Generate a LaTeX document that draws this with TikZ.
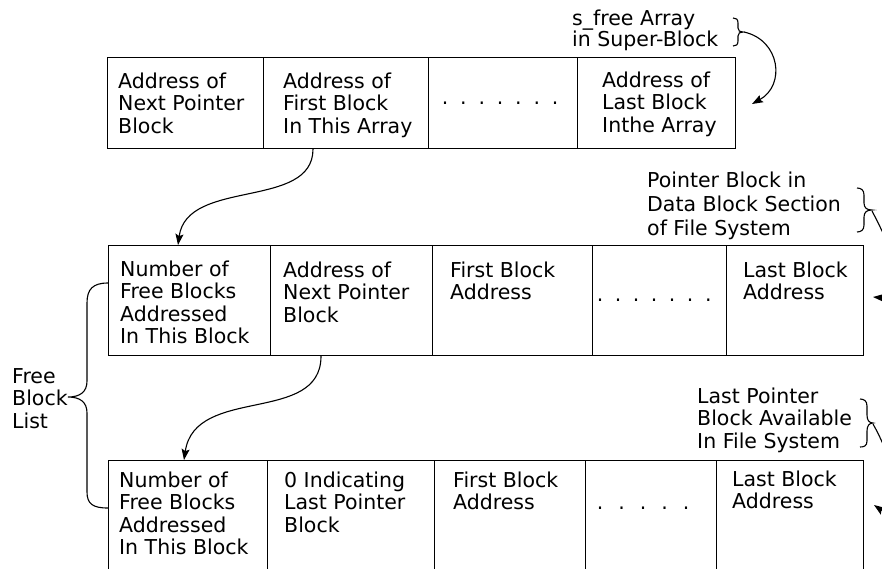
\documentclass[tikz,border=0pt]{standalone}
\usepackage{fontspec}
\setmainfont{DejaVu Sans}
\usetikzlibrary{arrows.meta}
\newcommand\mlines[1]{\begin{tabular}[t]{@{}l@{}}#1\end{tabular}}
\begin{document}
\begin{tikzpicture}[x=1pt,y=-1pt,
  cell/.style={draw, line width=1.1pt, rectangle, inner sep=0pt, anchor=north west},
  txt/.style={anchor=base west, inner sep=0pt, font=\fontsize{20.5}{22.5}\selectfont},
  conn/.style={line width=1.1pt, -{Stealth[length=11pt,width=8pt,inset=2pt]}},
  brc/.style={line width=1.1pt},
]
\useasboundingbox (0,0) rectangle (882,568);
\clip (0,0) rectangle (882,568);

% ---------- top row (s_free array) ----------
\node[cell, minimum width=156pt, minimum height=91pt] (t1) at (107,57) {};
\node[cell, minimum width=165pt, minimum height=91pt] (t2) at (263,57) {};
\node[cell, minimum width=149pt, minimum height=91pt] (t3) at (428,57) {};
\node[cell, minimum width=158pt, minimum height=91pt] (t4) at (577,57) {};
\node[txt] (t1x) at (118,88) {\mlines{Address of\\Next Pointer\\Block}};
\node[txt] (t2x) at (283,88) {\mlines{Address of\\First Block\\In This Array}};
\node[txt] (t3x) at (441.7,104.5) {.\hspace{11.8pt}.\hspace{11.8pt}.\hspace{11.8pt}.\hspace{11.8pt}.\hspace{11.8pt}.\hspace{11.8pt}.};
\node[txt] (t4x) at (602,87) {\mlines{Address of\\Last Block\\Inthe Array}};

% ---------- middle row ----------
\node[cell, minimum width=162pt, minimum height=110pt] (m1) at (108,245) {};
\node[cell, minimum width=162pt, minimum height=110pt] (m2) at (270,245) {};
\node[cell, minimum width=160pt, minimum height=110pt] (m3) at (432,245) {};
\node[cell, minimum width=134pt, minimum height=110pt] (m4) at (592,245) {};
\node[cell, minimum width=137pt, minimum height=110pt] (m5) at (726,245) {};
\node[txt] (m1x) at (120,276) {\mlines{Number of\\Free Blocks\\Addressed\\In This Block}};
\node[txt] (m2x) at (283,277) {\mlines{Address of\\Next Pointer\\Block}};
\node[txt] (m3x) at (450,277) {\mlines{First Block\\Address}};
\node[txt] (m4x) at (596.7,301.5) {.\hspace{11.5pt}.\hspace{11.5pt}.\hspace{11.5pt}.\hspace{11.5pt}.\hspace{11.5pt}.\hspace{11.5pt}.};
\node[txt] (m5x) at (743,277) {\mlines{Last Block\\Address}};

% ---------- bottom row ----------
\node[cell, minimum width=159pt, minimum height=160pt] (b1) at (108,460) {};
\node[cell, minimum width=167pt, minimum height=160pt] (b2) at (267,460) {};
\node[cell, minimum width=151pt, minimum height=160pt] (b3) at (434,460) {};
\node[cell, minimum width=131pt, minimum height=160pt] (b4) at (585,460) {};
\node[cell, minimum width=147pt, minimum height=160pt] (b5) at (716,460) {};
\node[txt] (b1x) at (119,487) {\mlines{Number of\\Free Blocks\\Addressed\\In This Block}};
\node[txt] (b2x) at (284,487) {\mlines{0 Indicating\\Last Pointer\\Block}};
\node[txt] (b3x) at (453,487) {\mlines{First Block\\Address}};
\node[txt] (b4x) at (596.7,509.5) {.\hspace{15pt}.\hspace{15pt}.\hspace{15pt}.\hspace{15pt}.};
\node[txt] (b5x) at (732,486) {\mlines{Last Block\\Address}};

% ---------- labels ----------
\node[txt, font=\fontsize{20.5}{20.5}\selectfont] (sfree) at (572,25) {\mlines{s\_free Array\\in Super-Block}};
\node[txt, font=\fontsize{20.5}{24}\selectfont] (pblk) at (647,187) {\mlines{Pointer Block in\\Data Block Section\\of File System}};
\node[txt] (lblk) at (697,403) {\mlines{Last Pointer\\Block Available\\In File System}};
\node[txt] (fbl) at (12,383) {\mlines{Free\\Block\\List}};

% ---------- braces ----------
\draw[brc] (733,18) .. controls (736,18) and (738,19) .. (738,23) -- (738,28)
  .. controls (738,31) and (740,32) .. (743,32) .. controls (740,32) and (738,33) .. (738,36)
  -- (738,41) .. controls (738,45) and (736,46) .. (733,46);
\coordinate (sfTip) at (744,32);

\draw[brc] (857,188) .. controls (861,188) and (864,190) .. (864,195) -- (864,203)
  .. controls (864,208) and (867,210) .. (872,210) .. controls (867,210) and (864,212) .. (864,217)
  -- (864,225) .. controls (864,230) and (861,232) .. (857,232);
\coordinate (pbTip) at (872,211);

\draw[brc] (860,399) .. controls (864,399) and (867,401) .. (867,406) -- (867,415)
  .. controls (867,420) and (869,423) .. (873,423) .. controls (869,423) and (867,426) .. (867,431)
  -- (867,441) .. controls (867,446) and (864,447) .. (860,447);
\coordinate (lpTip) at (873,424);

\draw[brc] (108,283) .. controls (93,283) and (87,289) .. (87,303) -- (87,381)
  .. controls (87,392) and (80,397) .. (68,397) .. controls (80,397) and (87,402) .. (87,413)
  -- (87,492) .. controls (87,504) and (93,508) .. (108,508);

% ---------- connectors ----------
\coordinate (sfEnd) at (752,104);
\draw[conn] (sfTip) .. controls (780,40) and (786,85) .. (sfEnd);

\draw[conn] ([xshift=50pt]t2.south west) .. controls (313,210) and (187,178) .. ([xshift=70pt]m1.north west);
\draw[conn] ([xshift=51pt]m2.south west) .. controls (321,425) and (195,385) .. ([xshift=76pt]b1.north west);

\coordinate (pbEnd) at (873,297);
\draw[conn] (pbTip) .. controls (897,258) and (910,300) .. (pbEnd);
\coordinate (lpEnd) at (874,505);
\draw[conn] (lpTip) .. controls (897,466) and (910,530) .. (lpEnd);
\end{tikzpicture}
\end{document}
